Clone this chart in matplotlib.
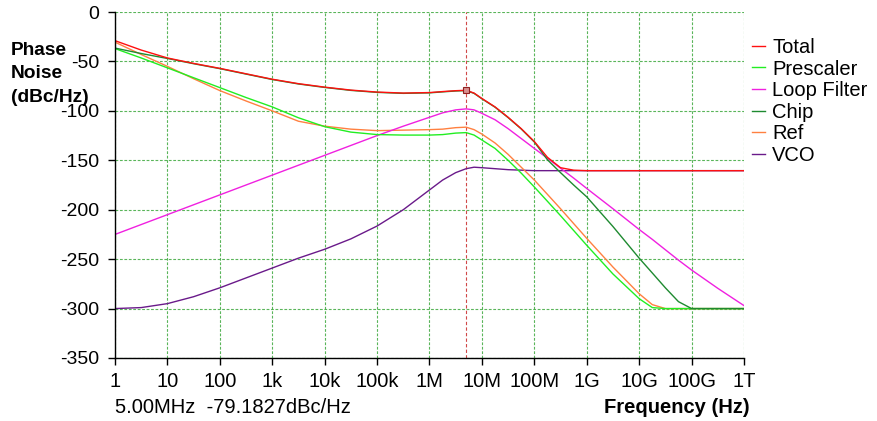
import numpy as np
import matplotlib
matplotlib.use("Agg")
import matplotlib.pyplot as plt

plt.rcParams['font.family'] = ['Liberation Sans', 'DejaVu Sans']
plt.rcParams['axes.unicode_minus'] = False

# Offset frequencies (Hz)
freq = [1, 3.16, 10, 31.6, 100, 316, 1e3, 3.16e3, 1e4, 3.16e4, 1e5, 3.16e5,
        1e6, 1.78e6, 3.16e6, 5e6, 7.08e6, 1e7, 1.78e7, 3.16e7, 5.62e7, 1e8,
        1.78e8, 3.16e8, 5.62e8, 1e9, 3.16e9, 1e10, 1.78e10, 3.16e10, 5.62e10,
        1e11, 3.16e11, 1e12]

# Marker readout
marker_freq = 5e6
marker_value = -79.1827

# Phase noise contributions (dBc/Hz)
total = [-29, -38.5, -46.5, -52, -57, -62.5, -68, -72.5, -76, -79, -81, -82,
         -81.5, -80.5, -79.6, marker_value, -82.0, -87.5, -96, -106.5, -118, -131,
         -147, -157.5, -160, -160.5, -160.5, -160.5, -160.5, -160.5, -160.5,
         -160.5, -160.5, -160.5]
prescaler = [-37, -46.5, -56.5, -66.5, -76.5, -86.5, -96, -107, -116, -121.5,
             -124, -124.5, -124.5, -124, -122.5, -122, -124.5, -129.5, -138,
             -150, -163, -177, -191.5, -206, -221, -236, -265, -290, -299,
             -300, -300, -300, -300, -300]
loop_filter = [-225, -215, -205, -195, -185, -175, -165, -155, -145, -135,
               -125, -115.5, -106.5, -102, -99, -98, -99, -102.5, -109, -118,
               -128, -138, -148, -158, -168, -178.5, -199, -220, -230, -240.5,
               -251, -261, -279.5, -297]
chip = [-36.5, -42, -47, -52.3, -57.3, -62.8, -68.3, -72.8, -76.3, -79.3,
        -81.3, -82.3, -81.8, -80.8, -79.9, -79.5, -82.3, -87.8, -96.3, -106.8,
        -118.3, -131.5, -149.5, -162.5, -175, -187, -217, -249, -264, -279,
        -293, -300, -300, -300]
ref = [-30.5, -43, -55, -67.5, -79.5, -90, -100, -110.5, -115.5, -118.5,
       -120, -119.5, -119, -118.5, -117, -116.5, -119, -123.5, -132.5, -144,
       -157, -170, -184.5, -199, -214, -229, -258, -285, -296, -300, -300,
       -300, -300, -300]
vco = [-300, -299, -295, -288, -279, -269, -259, -249, -240, -229.5, -216.5,
       -200, -180, -170, -162.5, -158.5, -157, -157.5, -158.5, -159.5, -160,
       -160.5, -160.5, -160.5, -160.5, -160.5, -160.5, -160.5, -160.5, -160.5,
       -160.5, -160.5, -160.5, -160.5]

series_names = ["Total", "Prescaler", "Loop Filter", "Chip", "Ref", "VCO"]
series_colors = ["#ff1010", "#22ee22", "#f020e0", "#1e8a30", "#ff8040", "#6a1a8a"]

xtick_values = [1, 10, 100, 1e3, 1e4, 1e5, 1e6, 1e7, 1e8, 1e9, 1e10, 1e11, 1e12]
xtick_labels = ["1", "10", "100", "1k", "10k", "100k", "1M", "10M", "100M",
                "1G", "10G", "100G", "1T"]
ytick_values = [0, -50, -100, -150, -200, -250, -300, -350]
ylabel_lines = ["Phase", "Noise", "(dBc/Hz)"]

W, H = 878, 421
fig = plt.figure(figsize=(W / 100, H / 100), dpi=100)
ax = fig.add_axes([115 / W, (H - 358) / H, (744 - 115) / W, (358 - 12) / H])

ax.set_xscale("log")
ax.set_xlim(1, 1e12)
ax.set_ylim(-350, 0)

ax.grid(True, which="major", color="#3da83d", linestyle=(0, (2.5, 1.5)),
        linewidth=0.8, alpha=0.85)
ax.set_axisbelow(True)
for s in ("top", "right"):
    ax.spines[s].set_visible(False)
for s in ("left", "bottom"):
    ax.spines[s].set_color("black")
    ax.spines[s].set_linewidth(1.0)

# marker cursor
ax.axvline(marker_freq, color="#d04848", linestyle=(0, (3, 2)), linewidth=0.8)

data = [total, prescaler, loop_filter, chip, ref, vco]
handles = {}
draw_order = ["VCO", "Ref", "Loop Filter", "Prescaler", "Chip", "Total"]
for name in draw_order:
    i = series_names.index(name)
    (ln,) = ax.plot(freq, data[i], color=series_colors[i], linewidth=1.0,
                    label=name)
    handles[name] = ln

ax.plot([marker_freq], [marker_value], marker="s", markersize=4.5,
        markerfacecolor="#d89090", markeredgecolor="#902020",
        markeredgewidth=0.8, zorder=5)

ax.set_xticks(xtick_values)
ax.set_xticklabels(xtick_labels)
ax.minorticks_off()
ax.set_yticks(ytick_values)
ax.tick_params(axis="both", direction="out", length=5, width=1.0,
               labelsize=14.5, colors="black")
ax.tick_params(axis="y", pad=6.5, labelsize=14)
ax.tick_params(axis="x", pad=5.0)

fig.legend([handles[n] for n in series_names], series_names,
           loc="upper left", bbox_to_anchor=(752 / W, 1 - 38 / H),
           frameon=False, fontsize=14.5, borderpad=0, borderaxespad=0,
           handlelength=0.66, handletextpad=0.35, labelspacing=0.125)

# y-axis caption, one line per text so each sits beside the tick labels
for k, line in enumerate(ylabel_lines):
    fig.text(11 / W, 1 - (55 + 23.5 * k) / H, line, fontsize=13.8,
             fontweight="bold", ha="left", va="baseline")

fig.text(115 / W, 1 - 413 / H,
         f"{marker_freq / 1e6:.2f}MHz  {marker_value:.4f}dBc/Hz",
         fontsize=14.5, ha="left", va="baseline")
fig.text(750 / W, 1 - 413 / H, "Frequency (Hz)", fontsize=14.5,
         fontweight="bold", ha="right", va="baseline")

fig.savefig("out.png", dpi=100)
